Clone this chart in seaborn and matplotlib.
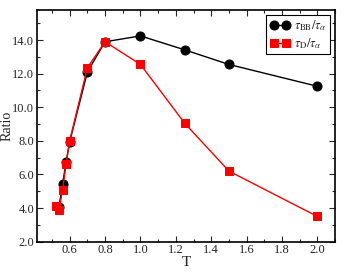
import matplotlib
matplotlib.use("Agg")
import matplotlib.pyplot as plt
import seaborn as sns
from matplotlib.ticker import MultipleLocator, FormatStrFormatter

T_bb = [0.54, 0.56, 0.58, 0.60, 0.70, 0.80, 1.00, 1.25, 1.50, 2.00]
ratio_bb = [4.08, 5.43, 6.75, 7.95, 12.1, 13.9, 14.25, 13.42, 12.55, 11.25]
T_d = [0.52, 0.54, 0.56, 0.58, 0.60, 0.70, 0.80, 1.00, 1.25, 1.50, 2.00]
ratio_d = [4.14, 3.89, 5.1, 6.65, 8.0, 12.35, 13.9, 12.55, 9.05, 6.2, 3.5]

sns.set_style("ticks")
plt.rcParams['font.family'] = ['Liberation Serif', 'DejaVu Serif']
plt.rcParams['mathtext.fontset'] = 'stix'

fig = plt.figure(figsize=(3.55, 2.74), dpi=100)
ax = fig.add_axes([0.104, 0.118, 0.84, 0.846])

sns.lineplot(x=T_bb, y=ratio_bb, ax=ax, color='black', marker='o', markersize=6.5,
             markeredgecolor='black', linewidth=1.0, sort=False, label=r'$\tau_{\rm BB}/\tau_\alpha$')
sns.lineplot(x=T_d, y=ratio_d, ax=ax, color='#ff0000', marker='s', markersize=5.8,
             markeredgecolor='#ff0000', linewidth=1.0, sort=False, label=r'$\tau_{\rm D}/\tau_\alpha$')

ax.set_xlim(0.415, 2.1)
ax.set_ylim(2.0, 15.8)
ax.xaxis.set_major_locator(MultipleLocator(0.2))
ax.xaxis.set_minor_locator(MultipleLocator(0.1))
ax.yaxis.set_major_locator(MultipleLocator(2.0))
ax.yaxis.set_minor_locator(MultipleLocator(1.0))
ax.xaxis.set_major_formatter(FormatStrFormatter('%.1f'))
ax.yaxis.set_major_formatter(FormatStrFormatter('%.1f'))
ax.tick_params(which='both', direction='in', top=True, right=True, labelsize=9, width=0.8, pad=2)
ax.tick_params(which='major', length=4)
ax.tick_params(which='minor', length=2)
for s in ax.spines.values():
    s.set_linewidth(1.2)
    s.set_color('black')

ax.set_xlabel('T', fontsize=11)
ax.set_ylabel('Ratio', fontsize=10)
ax.xaxis.set_label_coords(0.5, -0.06)
ax.yaxis.set_label_coords(-0.078, 0.5)

leg = ax.legend(loc='upper right', numpoints=2, fontsize=9, frameon=True, fancybox=False,
                edgecolor='black', framealpha=1, handlelength=1.6, handletextpad=0.3,
                borderpad=0.3, labelspacing=0.2, borderaxespad=0.4)
leg.get_frame().set_linewidth(0.8)

fig.savefig('out.png', dpi=100)
